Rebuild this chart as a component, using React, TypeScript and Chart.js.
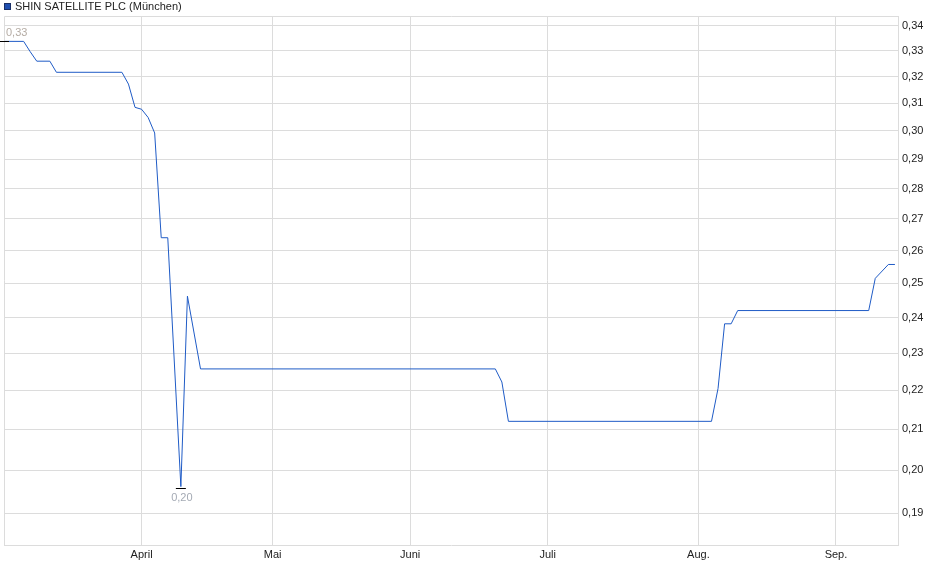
import React, { useEffect, useRef } from 'react';
import { Chart, registerables } from 'chart.js';

Chart.register(...registerables);

// series (x = trading day since start, y = price in EUR)
const seriesName = 'SHIN SATELLITE PLC (München)';
const tradingDays = [0, 3, 4, 5, 7, 8, 18, 19, 20, 21, 22, 23, 24, 25, 27, 28, 30, 75, 76, 77, 108, 109, 110, 111, 112, 132, 133, 135, 136];
const prices = [
  0.3338, 0.3338, 0.3297, 0.326, 0.326, 0.3217, 0.3217, 0.3172, 0.3085, 0.3078,
  0.3048, 0.2992, 0.264, 0.264, 0.1961, 0.2462, 0.2257, 0.2257, 0.2222, 0.212,
  0.212, 0.2205, 0.2382, 0.2382, 0.242, 0.242, 0.2515, 0.2557, 0.2557,
];
const monthStarts = [21, 41, 62, 83, 106, 127];
const monthLabels = ['April', 'Mai', 'Juni', 'Juli', 'Aug.', 'Sep.'];
const priceTicks = [0.19, 0.2, 0.21, 0.22, 0.23, 0.24, 0.25, 0.26, 0.27, 0.28, 0.29, 0.3, 0.31, 0.32, 0.33, 0.34];

const LINE = '#1f5bc6';
const GRID = '#dcdcdc';
const FONT = '"Liberation Sans", Arial, sans-serif';

const fmt = (v: number) => v.toFixed(2).replace('.', ',');

// legend + high/low markers
const extrasPlugin = {
  id: 'extras',
  afterDraw(chart: any) {
    const { ctx, chartArea, scales } = chart;
    ctx.save();

    // frame left/top
    ctx.strokeStyle = GRID;
    ctx.lineWidth = 1;
    ctx.beginPath();
    ctx.moveTo(chartArea.left + 0.5, chartArea.bottom);
    ctx.lineTo(chartArea.left + 0.5, chartArea.top + 0.5);
    ctx.lineTo(chartArea.right, chartArea.top + 0.5);
    ctx.stroke();

    // legend
    ctx.fillStyle = '#1f4fb0';
    ctx.fillRect(4, 3, 7, 7);
    ctx.strokeStyle = '#1a2f66';
    ctx.strokeRect(4.5, 3.5, 6, 6);
    ctx.fillStyle = '#222';
    ctx.font = '11px ' + FONT;
    ctx.textBaseline = 'middle';
    ctx.textAlign = 'left';
    ctx.fillText(seriesName, 15, 7);

    // high / low
    let hi = 0;
    let lo = 0;
    prices.forEach((p, i) => {
      if (p > prices[hi]) hi = i;
      if (p < prices[lo]) lo = i;
    });
    const hx = scales.x.getPixelForValue(tradingDays[hi]);
    const hy = Math.round(scales.y.getPixelForValue(prices[hi])) + 0.5;
    const lx = scales.x.getPixelForValue(tradingDays[lo]);
    const ly = Math.round(scales.y.getPixelForValue(prices[lo])) + 1.5;

    ctx.strokeStyle = '#000';
    ctx.beginPath();
    ctx.moveTo(hx - 5, hy);
    ctx.lineTo(hx + 5, hy);
    ctx.moveTo(lx - 5, ly);
    ctx.lineTo(lx + 5, ly);
    ctx.stroke();

    ctx.fillStyle = '#b5aca4';
    ctx.textAlign = 'left';
    ctx.fillText(fmt(prices[hi]), hx + 2, hy - 9);
    ctx.fillStyle = '#a4aab4';
    ctx.textAlign = 'center';
    ctx.fillText(fmt(prices[lo]), lx + 1, ly + 9);

    ctx.restore();
  },
};

function PriceChart() {
  const canvasRef = useRef<HTMLCanvasElement>(null);
  const chartRef = useRef<Chart | null>(null);

  useEffect(() => {
    if (!canvasRef.current) return;
    if (chartRef.current) chartRef.current.destroy();

    chartRef.current = new Chart(canvasRef.current, {
      type: 'line',
      data: {
        datasets: [
          {
            label: seriesName,
            data: tradingDays.map((d, i) => ({ x: d, y: prices[i] })),
            borderColor: LINE,
            borderWidth: 1,
            pointRadius: 0,
            tension: 0,
            fill: false,
          },
        ],
      },
      options: {
        responsive: false,
        animation: false,
        events: [],
        layout: { padding: { left: 4, top: 16, right: 0, bottom: 0 } },
        plugins: {
          legend: { display: false },
          tooltip: { enabled: false },
        },
        scales: {
          x: {
            type: 'linear',
            min: 0,
            max: 136.47,
            afterBuildTicks: (axis: any) => {
              axis.ticks = monthStarts.map((v) => ({ value: v }));
            },
            afterFit: (axis: any) => {
              axis.height = 34;
            },
            ticks: {
              autoSkip: false,
              maxRotation: 0,
              padding: 3,
              color: '#222',
              font: { family: FONT, size: 11 },
              callback: (v: any) => monthLabels[monthStarts.indexOf(Number(v))] ?? '',
            },
            grid: { color: GRID, drawTicks: false },
            border: { color: GRID },
          },
          y: {
            type: 'logarithmic',
            position: 'right',
            min: 0.18288,
            max: 0.34408,
            afterBuildTicks: (axis: any) => {
              axis.ticks = priceTicks.map((v) => ({ value: v }));
            },
            afterFit: (axis: any) => {
              axis.width = 42;
            },
            ticks: {
              autoSkip: false,
              padding: 4,
              color: '#222',
              font: { family: FONT, size: 11 },
              callback: (v: any) => fmt(Number(v)),
            },
            grid: { color: GRID, drawTicks: false },
            border: { color: GRID },
          },
        },
      },
      plugins: [extrasPlugin],
    });

    return () => {
      if (chartRef.current) {
        chartRef.current.destroy();
        chartRef.current = null;
      }
    };
  }, []);

  return <canvas ref={canvasRef} width={940} height={579} />;
}

export default function App() {
  return (
    <div style={{ position: 'absolute', left: 0, top: 0, width: 940, height: 579, background: '#fff' }}>
      <PriceChart />
    </div>
  );
}
